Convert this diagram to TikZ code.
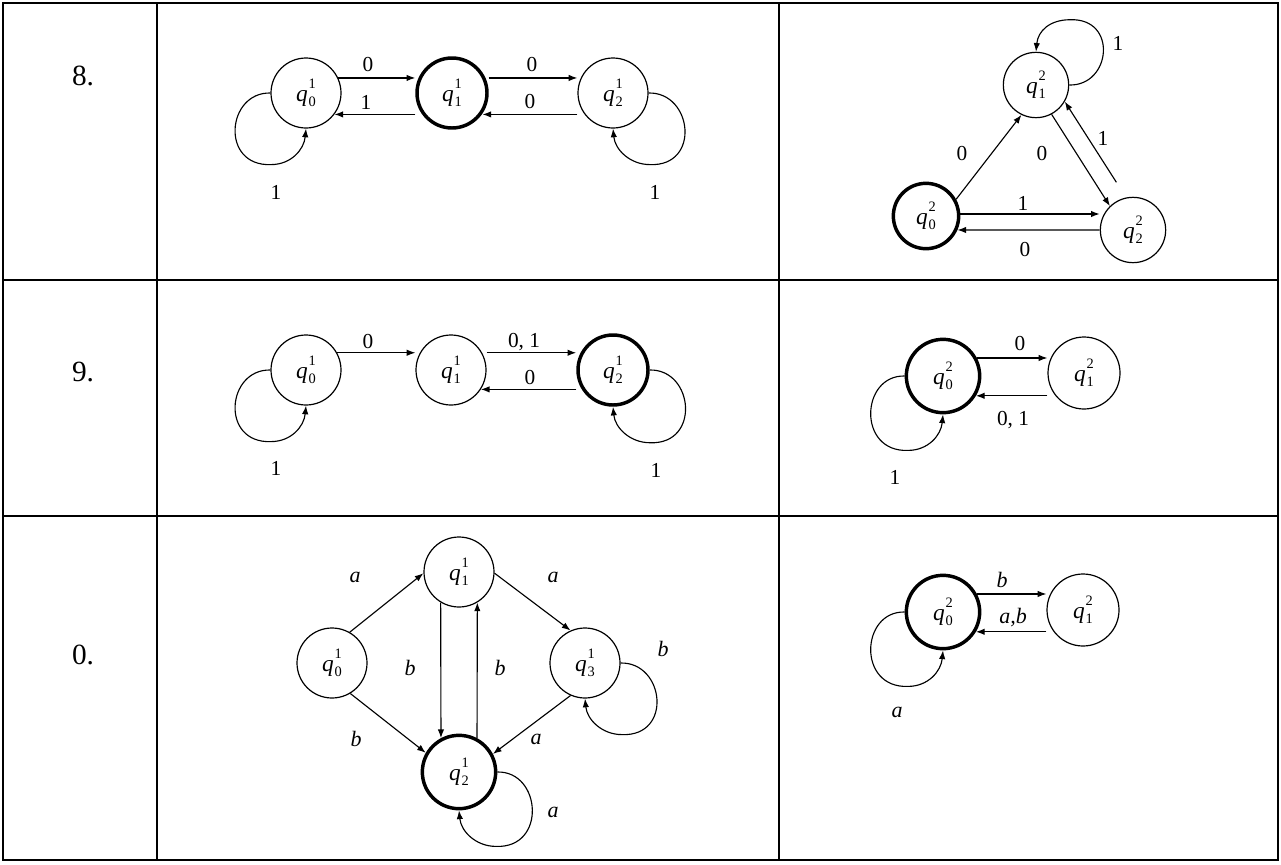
\documentclass[tikz,border=0pt]{standalone}
\usepackage{fontspec}
\setmainfont{Liberation Serif}
\usetikzlibrary{arrows.meta,calc}
\newcommand{\qq}[2]{\textit{q}\kern0.6pt\rlap{\raisebox{9.5pt}{\fontsize{10.8}{11}\selectfont #2}}{\raisebox{-3.7pt}{\fontsize{10.8}{11}\selectfont #1}}}
\newcommand{\loopBL}[1]{\draw[arr] (#1.west) .. controls +(-44,1) and +(-51,-2) .. ($(#1.south)+(-35,-36)$) .. controls +(20,0) and +(-2,-21) .. (#1.south);}
\newcommand{\loopBR}[1]{\draw[arr] (#1.east) .. controls +(44,1) and +(51,-2) .. ($(#1.south)+(37,-36)$) .. controls +(-20,0) and +(2,-21) .. (#1.south);}
\newcommand{\loopTR}[1]{\draw[arr] (#1.east) .. controls +(42,-1) and +(48,2) .. ($(#1.north)+(34,32)$) .. controls +(-20,0) and +(2,21) .. (#1.north);}
\begin{document}
\begin{tikzpicture}[x=0.75pt,y=0.75pt,
  st/.style={circle,draw,line width=0.9pt,inner sep=0pt,font=\fontsize{17.5}{19}\selectfont},
  s35/.style={st,minimum size=52.5pt},
  s33/.style={st,minimum size=49pt},
  acc/.style={line width=2.6pt},
  arr/.style={-{Latex[length=6.5pt,width=4.8pt]},line width=0.85pt},
  lab/.style={inner sep=0pt,font=\fontsize{16}{18}\selectfont},
  ilab/.style={lab,font=\fontsize{16.5}{18}\selectfont\itshape},
  rowlab/.style={inner sep=0pt,font=\fontsize{22}{26}\selectfont},
  tab/.style={line width=1.5pt}]
\useasboundingbox (0,0) rectangle (1281,-864);
% table
\draw[tab] (3,-3) rectangle (1278,-860);
\draw[tab] (157,-3) -- (157,-860);
\draw[tab] (779,-3) -- (779,-860);
\draw[tab] (3,-280) -- (1278,-280);
\draw[tab] (3,-516) -- (1278,-516);
\node[rowlab] (r8) at (83,-76) {8.};
\node[rowlab] (r9) at (83,-372) {9.};
\node[rowlab] (r0) at (83,-655) {0.};

% ---------- row 8, left
\node[s35] (a0) at (306,-93) {\qq{0}{1}};
\node[s35,acc] (a1) at (452,-93) {\qq{1}{1}};
\node[s35] (a2) at (613,-93) {\qq{2}{1}};
\draw[arr] (a0.25) -- (a0.25 -| a1.west);
\draw[arr] (a1.west |- a0.-37) -- (a0.-37);
\draw[arr] (a1.east |- a0.25) -- (a0.25 -| a2.west);
\draw[arr] (a2.west |- a0.-37) -- (a1.-34 |- a0.-37);
\loopBL{a0}
\loopBR{a2}
\node[lab] (la1) at (368,-65) {0};
\node[lab] (la2) at (366,-102) {1};
\node[lab] (la3) at (532,-65) {0};
\node[lab] (la4) at (530,-102) {0};
\node[lab] (la5) at (276,-192) {1};
\node[lab] (la6) at (655,-192) {1};

% ---------- row 8, right
\node[s33] (b1) at (1036,-85) {\qq{1}{2}};
\node[s33,acc] (b0) at (926,-216) {\qq{0}{2}};
\node[s33] (b2) at (1133,-230) {\qq{2}{2}};
\draw[arr] (b0.29) -- (b1.244);
\draw[arr] (b1.-62) -- (b2.134);
\draw[arr,shorten <=13.5pt] (b2.102) -- (b1.-30);
\draw[arr] ([yshift=1.5pt]b0.east) -- ([yshift=1.5pt]b0.east -| b2.west);
\draw[arr] (b2.west) -- (b0.-24);
\loopTR{b1}
\node[lab] (lb1) at (962,-154) {0};
\node[lab] (lb2) at (1042,-154) {0};
\node[lab] (lb3) at (1103,-138) {1};
\node[lab] (lb4) at (1023,-203) {1};
\node[lab] (lb5) at (1025,-250) {0};
\node[lab] (lb6) at (1118,-43) {1};

% ---------- row 9, left
\node[s35] (c0) at (306,-370) {\qq{0}{1}};
\node[s35] (c1) at (451,-370) {\qq{1}{1}};
\node[s35,acc] (c2) at (613,-370) {\qq{2}{1}};
\draw[arr] (c0.29) -- (c0.29 -| c1.west);
\draw[arr] (c1.east |- c0.29) -- (c0.29 -| c2.west);
\draw[arr] (c2.west |- c1.-33) -- (c1.-33);
\loopBL{c0}
\loopBR{c2}
\node[lab] (lc1) at (368,-342) {0};
\node[lab] (lc2) at (524,-342) {0, 1};
\node[lab] (lc3) at (530,-378) {0};
\node[lab] (lc4) at (276,-468) {1};
\node[lab] (lc5) at (656,-470) {1};

% ---------- row 9, right
\node[st,minimum size=55pt,acc] (d0) at (943,-376) {\qq{0}{2}};
\node[st,minimum size=54pt] (d1) at (1084,-373) {\qq{1}{2}};
\draw[arr] (d0.28) -- (d0.28 -| d1.west);
\draw[arr] (d1.west |- d0.-31) -- (d0.-31);
\loopBL{d0}
\node[lab] (ld1) at (1020,-344) {0};
\node[lab] (ld2) at (1013,-420) {0, 1};
\node[lab] (ld3) at (895,-477) {1};

% ---------- row 0, left
\node[s35] (e0) at (332,-663) {\qq{0}{1}};
\node[s35] (e1) at (459,-572) {\qq{1}{1}};
\node[st,minimum size=55pt,acc] (e2) at (459,-772) {\qq{2}{1}};
\node[s35] (e3) at (585,-663) {\qq{3}{1}};
\draw[arr] (e0.60) -- (e1.182);
\draw[arr] (e0.-59) -- (e2.150);
\draw[arr] (e1.-121) -- (e2.118);
\draw[arr] (e2.62) -- (e1.-59);
\draw[arr] (e1.-2) -- (e3.114);
\draw[arr] (e3.246) -- (e2.28);
\loopBR{e3}
\loopBR{e2}
\node[ilab] (le1) at (355,-577) {a};
\node[ilab] (le2) at (553,-577) {a};
\node[ilab] (le3) at (410,-668) {b};
\node[ilab] (le4) at (500,-668) {b};
\node[ilab] (le5) at (663,-649) {b};
\node[ilab] (le6) at (356,-739) {b};
\node[ilab] (le7) at (536,-739) {a};
\node[ilab] (le8) at (553,-812) {a};

% ---------- row 0, right
\node[st,minimum size=55pt,acc] (f0) at (943,-612) {\qq{0}{2}};
\node[st,minimum size=54pt] (f1) at (1083,-610) {\qq{1}{2}};
\draw[arr] (f0.28) -- (f0.28 -| f1.west);
\draw[arr] (f1.west |- f0.-31) -- (f0.-31);
\loopBL{f0}
\node[ilab] (lf1) at (1002,-580) {b};
\node[ilab] (lf2) at (1013,-618) {a,b};
\node[ilab] (lf3) at (897,-712) {a};
\end{tikzpicture}
\end{document}
